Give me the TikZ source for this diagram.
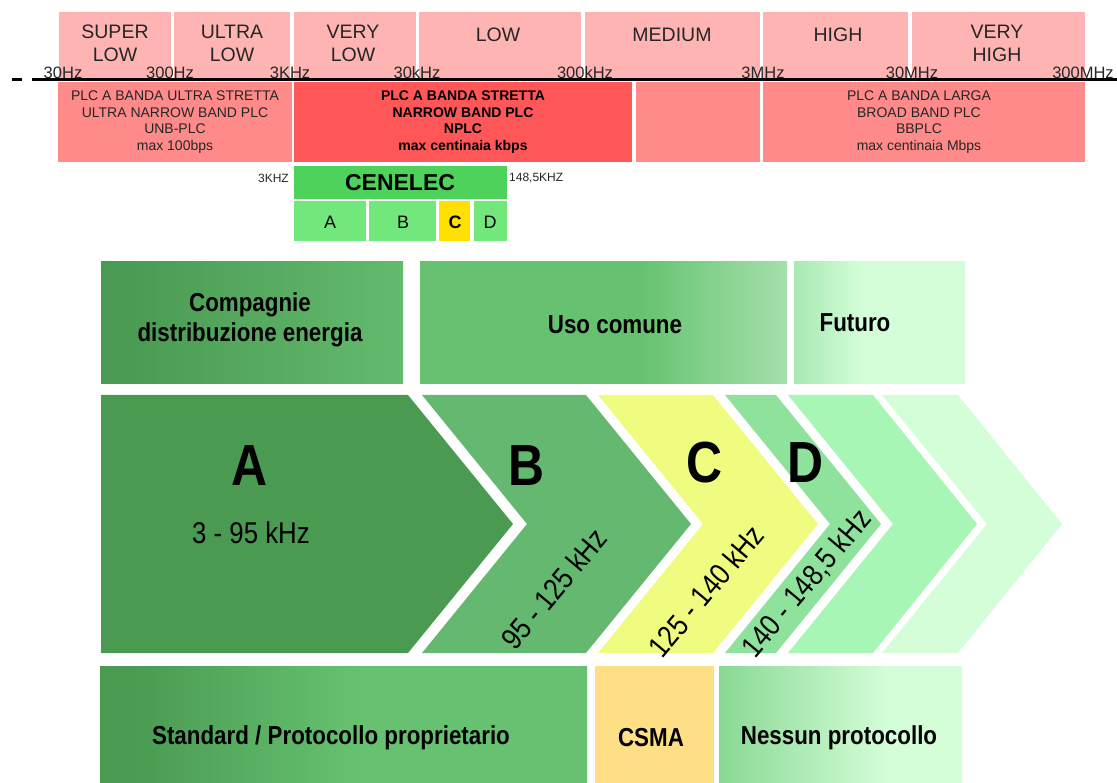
\documentclass[tikz,border=0pt]{standalone}
\usepackage{fontspec}
\setmainfont{Liberation Sans}
\newfontfamily\narrowfont[FakeStretch=0.86]{Liberation Sans}
\definecolor{bandpink}{HTML}{FFB4B4}
\definecolor{plcsalmon}{HTML}{FF8A8A}
\definecolor{plcred}{HTML}{FF5757}
\definecolor{cenbar}{HTML}{4DD35B}
\definecolor{cenlight}{HTML}{72E87C}
\definecolor{cenyellow}{HTML}{FFE000}
\definecolor{gA}{HTML}{4A9A52}
\definecolor{gAr}{HTML}{63BA6D}
\definecolor{gB}{HTML}{64B870}
\definecolor{gMid}{HTML}{66C270}
\definecolor{gMidR}{HTML}{A5E0AC}
\definecolor{yC}{HTML}{F0FC80}
\definecolor{gD}{HTML}{8EE29C}
\definecolor{gE}{HTML}{A8F6B6}
\definecolor{gF}{HTML}{D4FED8}
\definecolor{gFutL}{HTML}{A8E8B2}
\definecolor{gNesL}{HTML}{8AD894}
\definecolor{csma}{HTML}{FFDF85}
% the path's box covers 25bp..75bp of each shading
\pgfdeclarehorizontalshading{compshade}{100bp}{color(0bp)=(gA); color(28bp)=(gA); color(75bp)=(gAr); color(100bp)=(gAr)}
\pgfdeclarehorizontalshading{usoshade}{100bp}{color(0bp)=(gMid); color(55bp)=(gMid); color(75bp)=(gMidR); color(100bp)=(gMidR)}
\pgfdeclarehorizontalshading{futshade}{100bp}{color(0bp)=(gFutL); color(25bp)=(gFutL); color(45bp)=(gF); color(100bp)=(gF)}
\pgfdeclarehorizontalshading{stdshade}{100bp}{color(0bp)=(gA); color(28bp)=(gA); color(52bp)=(gMid); color(100bp)=(gMid)}
\pgfdeclarehorizontalshading{nesshade}{100bp}{color(0bp)=(gNesL); color(25bp)=(gNesL); color(60bp)=(gF); color(100bp)=(gF)}
\begin{document}
\begin{tikzpicture}[x=1pt,y=-1pt,
  bandtxt/.style={font=\fontsize{19.5}{23}\selectfont, align=center, text=black!85, inner sep=0},
  freqtxt/.style={font=\fontsize{16.5}{18}\selectfont, anchor=base, inner sep=0, text=black!85},
  plctxt/.style={font=\fontsize{14}{16.5}\selectfont, align=center, inner sep=0, text=black!85},
  plcbold/.style={font=\fontsize{14}{16.5}\selectfont\bfseries, align=center, inner sep=0},
  centxt/.style={font=\fontsize{23}{26}\selectfont\bfseries, inner sep=0},
  subtxt/.style={font=\fontsize{18}{20}\selectfont, inner sep=0},
  khztxt/.style={font=\fontsize{12}{14}\selectfont, inner sep=0, text=black!85},
  cattxt/.style={font=\narrowfont\bfseries\fontsize{26}{30}\selectfont, align=center, inner sep=0},
  bigletter/.style={font=\narrowfont\bfseries\fontsize{58}{60}\selectfont, inner sep=0},
  rangetxt/.style={font=\narrowfont\fontsize{30}{32}\selectfont, inner sep=0}]
\useasboundingbox (0,0) rectangle (1117,783);

% ---------- frequency bands ----------
\fill[bandpink] (59,12) rectangle (171,80);
\fill[bandpink] (174,12) rectangle (290,80);
\fill[bandpink] (294,12) rectangle (416,80);
\fill[bandpink] (419,12) rectangle (581,80);
\fill[bandpink] (585,12) rectangle (760,80);
\fill[bandpink] (763,12) rectangle (908,80);
\fill[bandpink] (912,12) rectangle (1085,80);
\node[bandtxt] (sl) at (115,43.5) {SUPER\\LOW};
\node[bandtxt] (ul) at (232,43.5) {ULTRA\\LOW};
\node[bandtxt] (vl) at (353,43.5) {VERY\\LOW};
\node[bandtxt] (lo) at (498,35) {LOW};
\node[bandtxt] (me) at (672,35) {MEDIUM};
\node[bandtxt] (hi) at (838,35) {HIGH};
\node[bandtxt] (vh) at (997,43.5) {VERY\\HIGH};

% ---------- axis ----------
\coordinate (dashL) at (12,80);
\coordinate (dashR) at (22,80);
\coordinate (axL) at (32,80);
\coordinate (axR) at (1117,80);
\draw[line width=3pt] (dashL) -- (dashR);
\draw[line width=3pt] (axL) -- (axR);
\node[freqtxt] (f1) at (63,79) {30Hz};
\node[freqtxt] (f2) at (170,79) {300Hz};
\node[freqtxt] (f3) at (290,79) {3KHz};
\node[freqtxt] (f4) at (417,79) {30kHz};
\node[freqtxt] (f5) at (585,79) {300kHz};
\node[freqtxt] (f6) at (763,79) {3MHz};
\node[freqtxt] (f7) at (912,79) {30MHz};
\node[freqtxt] (f8) at (1083,79) {300MHz};

% ---------- PLC bands ----------
\fill[plcsalmon] (58,82) rectangle (292,162);
\fill[plcred] (294,82) rectangle (632,162);
\fill[plcsalmon] (636,82) rectangle (760,162);
\fill[plcsalmon] (763,82) rectangle (1085,162);
\node[plctxt] (unb) at (175,122) {PLC A BANDA ULTRA STRETTA\\ULTRA NARROW BAND PLC\\UNB-PLC\\max 100bps};
\node[plcbold] (nb) at (463,122) {PLC A BANDA STRETTA\\NARROW BAND PLC\\NPLC\\max centinaia kbps};
\node[plctxt] (bb) at (919,122) {PLC A BANDA LARGA\\BROAD BAND PLC\\BBPLC\\max centinaia Mbps};

% ---------- CENELEC ----------
\fill[cenbar] (294,166) rectangle (507,199);
\node[centxt] (cen) at (400,183) {CENELEC};
\fill[cenlight] (294,201) rectangle (366,241);
\fill[cenlight] (369,201) rectangle (436,241);
\fill[cenyellow] (439,201) rectangle (470,241);
\fill[cenlight] (474,201) rectangle (507,241);
\node[subtxt] (ca) at (330,222) {A};
\node[subtxt] (cb) at (403,222) {B};
\node[subtxt, font=\fontsize{18}{20}\selectfont\bfseries] (cc) at (455,222) {C};
\node[subtxt] (cd) at (490,222) {D};
\node[khztxt, anchor=east] (k1) at (289,178) {3KHZ};
\node[khztxt, anchor=west] (k2) at (509,178) {148,5KHZ};

% ---------- category boxes ----------
\fill[shading=compshade] (101,262) rectangle (403,384);
\fill[shading=usoshade] (420,262) rectangle (787,384);
\fill[shading=futshade] (794,262) rectangle (965,384);
\node[cattxt] (comp) at (250,320) {Compagnie\\distribuzione energia};
\node[cattxt] (uso) at (615,325) {Uso comune};
\node[cattxt] (fut) at (855,323) {Futuro};

% ---------- chevrons ----------
\fill[gA] (101,395) -- (408,395) -- (513,524) -- (408,653) -- (101,653) -- cycle;
\fill[gB] (422,395) -- (586,395) -- (691,524) -- (586,653) -- (422,653) -- (527,524) -- cycle;
\fill[yC] (598,395) -- (713,395) -- (818,524) -- (713,653) -- (598,653) -- (703,524) -- cycle;
\fill[gD] (725,395) -- (776,395) -- (881,524) -- (776,653) -- (725,653) -- (830,524) -- cycle;
\fill[gE] (788,395) -- (873,395) -- (977,524) -- (873,653) -- (788,653) -- (893,524) -- cycle;
\fill[gF] (882,395) -- (958,395) -- (1062,524) -- (958,653) -- (882,653) -- (987,524) -- cycle;
\node[bigletter] (la) at (250,466) {A};
\node[bigletter] (lb) at (527,466) {B};
\node[bigletter] (lc) at (705,463) {C};
\node[bigletter] (ld) at (806,463) {D};
\node[rangetxt] (ra) at (251,533) {3 - 95 kHz};
\node[rangetxt, rotate=50] (rb) at (554,589) {95 - 125 kHz};
\node[rangetxt, rotate=50] (rc) at (706,591) {125 - 140 kHz};
\node[rangetxt, rotate=50] (rd) at (807,584) {140 - 148,5 kHz};

% ---------- protocol boxes ----------
\fill[shading=stdshade] (100,666) rectangle (587,783);
\fill[csma] (595,666) rectangle (714,783);
\fill[shading=nesshade] (719,666) rectangle (962,783);
\node[cattxt] (std) at (331,738) {Standard / Protocollo proprietario};
\node[cattxt] (cs) at (651,738) {CSMA};
\node[cattxt] (nes) at (839,738) {Nessun protocollo};
\end{tikzpicture}
\end{document}
